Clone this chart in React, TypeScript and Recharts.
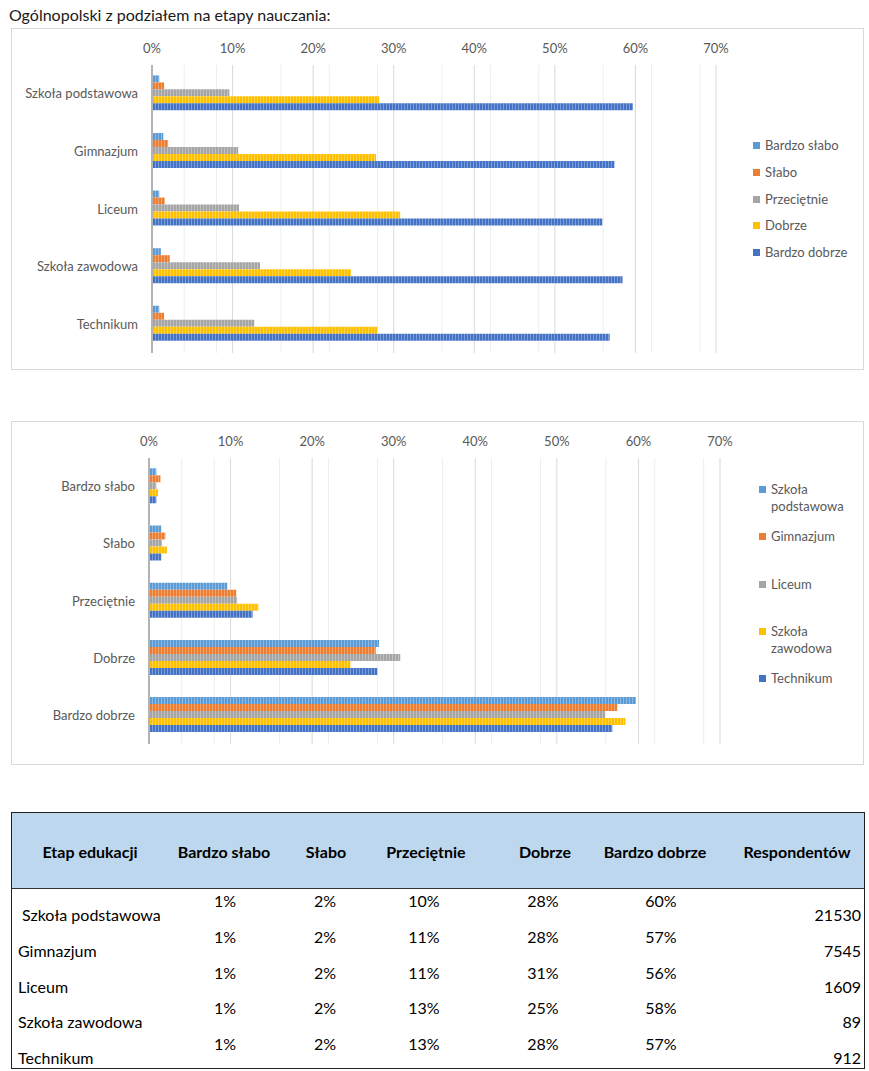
import { BarChart, Bar, XAxis, YAxis, CartesianGrid } from 'recharts';

const categories = ['Szkoła podstawowa', 'Gimnazjum', 'Liceum', 'Szkoła zawodowa', 'Technikum'];
const ratings = ['Bardzo słabo', 'Słabo', 'Przeciętnie', 'Dobrze', 'Bardzo dobrze'];

// values in % per school (same order as categories)
const bardzoSlabo = [0.9, 1.4, 0.9, 1.1, 0.9];
const slabo = [1.5, 2.0, 1.6, 2.2, 1.5];
const przecietnie = [9.6, 10.7, 10.8, 13.4, 12.7];
const dobrze = [28.2, 27.8, 30.8, 24.7, 28.0];
const bardzoDobrze = [59.7, 57.4, 55.9, 58.4, 56.8];
const respondents = [21530, 7545, 1609, 89, 912];

const xTicks = [0, 10, 20, 30, 40, 50, 60, 70];
const minorTicks = [0, 2, 4, 6, 8, 12, 14, 16, 18, 22, 24, 26, 28, 32, 34, 36, 38, 42, 44, 46, 48, 52, 54, 56, 58, 62, 64, 66, 68];

const palette = ['#5B9BD5', '#ED7D31', '#A5A5A5', '#FFC000', '#4472C4'];
const tableHeaders = ['Etap edukacji', 'Bardzo słabo', 'Słabo', 'Przeciętnie', 'Dobrze', 'Bardzo dobrze', 'Respondentów'];

const byRating = [bardzoSlabo, slabo, przecietnie, dobrze, bardzoDobrze];

// chart 1: one row per school, one series per rating
const schoolRows = categories.map((name, i) => {
  const row: any = { name };
  byRating.forEach((arr, r) => (row[`r${r}`] = arr[i]));
  return row;
});

// chart 2: one row per rating, one series per school
const ratingRows = ratings.map((name, r) => {
  const row: any = { name };
  categories.forEach((_, i) => (row[`s${i}`] = byRating[r][i]));
  return row;
});

const FONT = 'Lato, "Open Sans", sans-serif';
const axisTick = { fill: '#595959', fontSize: 13, fontFamily: FONT };

const Stripes = ({ prefix }: { prefix: string }) => (
  <defs>
    {palette.map((c, i) => (
      <pattern key={i} id={`${prefix}${i}`} width="3" height="4" patternUnits="userSpaceOnUse">
        <rect width="3" height="4" fill={c} />
        <rect x="2" width="1" height="4" fill="#ffffff" fillOpacity="0.3" />
      </pattern>
    ))}
  </defs>
);

const boxStyle: React.CSSProperties = {
  position: 'absolute',
  left: 11,
  width: 853,
  border: '1px solid #d9d9d9',
  boxSizing: 'border-box',
  background: '#fff',
};

const LegendItem = ({ color, label, top, left, width }: any) => (
  <div style={{ position: 'absolute', top, left, width, display: 'flex', alignItems: 'flex-start' }}>
    <div style={{ width: 7, height: 7, background: color, marginTop: 5, marginRight: 5, flex: 'none' }} />
    <div style={{ fontSize: 13, lineHeight: '17px', color: '#595959' }}>{label}</div>
  </div>
);

export default function App() {
  const colX = [90, 224, 326, 426, 545, 655, 797];
  const pctX = [225, 325, 424, 543, 661];
  return (
    <div style={{ position: 'absolute', left: 0, top: 0, width: 869, height: 1071, background: '#fff', fontFamily: FONT }}>
      <div style={{ position: 'absolute', left: 9, top: 5, fontSize: 16, color: '#1a1a1a' }}>
        Ogólnopolski z podziałem na etapy nauczania:
      </div>

      {/* chart 1 */}
      <div style={{ ...boxStyle, top: 28, height: 342 }}>
        <BarChart
          layout="vertical"
          width={851}
          height={340}
          data={schoolRows}
          margin={{ top: 6, right: 147, bottom: 16, left: 9 }}
          barCategoryGap="18%"
          barGap={0}
        >
          <Stripes prefix="a" />
          <CartesianGrid horizontal={false} verticalValues={minorTicks} stroke="#eeeeee" />
          <CartesianGrid horizontal={false} stroke="#d9d9d9" />
          <XAxis
            type="number"
            orientation="top"
            domain={[0, 70]}
            ticks={xTicks}
            tickFormatter={(v) => `${v}%`}
            axisLine={false}
            tickLine={false}
            height={30}
            tickMargin={6}
            tick={axisTick}
          />
          <YAxis
            type="category"
            dataKey="name"
            width={131}
            axisLine={{ stroke: '#b3b3b3', strokeWidth: 2 }}
            tickLine={false}
            tickMargin={8}
            tick={axisTick}
          />
          {ratings.map((r, i) => (
            <Bar key={r} dataKey={`r${i}`} name={r} fill={`url(#a${i})`} isAnimationActive={false} />
          ))}
        </BarChart>
      </div>
      {ratings.map((r, i) => (
        <LegendItem key={r} color={palette[i]} label={r} top={137 + i * 26.8} left={753} width={110} />
      ))}

      {/* chart 2 */}
      <div style={{ ...boxStyle, top: 421, height: 344 }}>
        <BarChart
          layout="vertical"
          width={851}
          height={342}
          data={ratingRows}
          margin={{ top: 6, right: 143, bottom: 20, left: 9 }}
          barCategoryGap="18%"
          barGap={0}
        >
          <Stripes prefix="b" />
          <CartesianGrid horizontal={false} verticalValues={minorTicks} stroke="#eeeeee" />
          <CartesianGrid horizontal={false} stroke="#d9d9d9" />
          <XAxis
            type="number"
            orientation="top"
            domain={[0, 70]}
            ticks={xTicks}
            tickFormatter={(v) => `${v}%`}
            axisLine={false}
            tickLine={false}
            height={30}
            tickMargin={6}
            tick={axisTick}
          />
          <YAxis
            type="category"
            dataKey="name"
            width={128}
            axisLine={{ stroke: '#b3b3b3', strokeWidth: 2 }}
            tickLine={false}
            tickMargin={8}
            tick={axisTick}
          />
          {categories.map((c, i) => (
            <Bar key={c} dataKey={`s${i}`} name={c} fill={`url(#b${i})`} isAnimationActive={false} />
          ))}
        </BarChart>
      </div>
      {categories.map((c, i) => (
        <LegendItem key={c} color={palette[i]} label={c} top={481 + i * 47.3} left={759} width={95} />
      ))}

      {/* table */}
      <div
        style={{
          position: 'absolute',
          left: 11,
          top: 812,
          width: 854,
          height: 257,
          border: '1.5px solid #222',
          boxSizing: 'border-box',
          color: '#000',
        }}
      >
        <div style={{ position: 'absolute', left: 0, top: 0, right: 0, height: 75, background: '#bdd7ee', borderBottom: '1.5px solid #333' }}>
          {tableHeaders.map((h, i) => (
            <div
              key={h}
              style={{
                position: 'absolute',
                left: colX[i] - 12,
                top: 38,
                transform: 'translate(-50%, -50%)',
                fontWeight: 700,
                fontSize: 16,
                whiteSpace: 'nowrap',
              }}
            >
              {h}
            </div>
          ))}
        </div>
        {categories.map((c, i) => {
          const pTop = 87 + i * 35.75;
          const nTop = 101 + i * 35.75;
          return (
            <div key={c}>
              {byRating.map((arr, r) => (
                <div
                  key={r}
                  style={{ position: 'absolute', left: pctX[r] - 12, top: pTop, transform: 'translate(-50%, -50%)', fontSize: 16 }}
                >
                  {Math.round(arr[i])}%
                </div>
              ))}
              <div style={{ position: 'absolute', left: i === 0 ? 10 : 6, top: nTop, transform: 'translateY(-50%)', fontSize: 16, whiteSpace: 'nowrap' }}>
                {c}
              </div>
              <div style={{ position: 'absolute', right: 3, top: nTop, transform: 'translateY(-50%)', fontSize: 16 }}>
                {respondents[i]}
              </div>
            </div>
          );
        })}
      </div>
    </div>
  );
}
